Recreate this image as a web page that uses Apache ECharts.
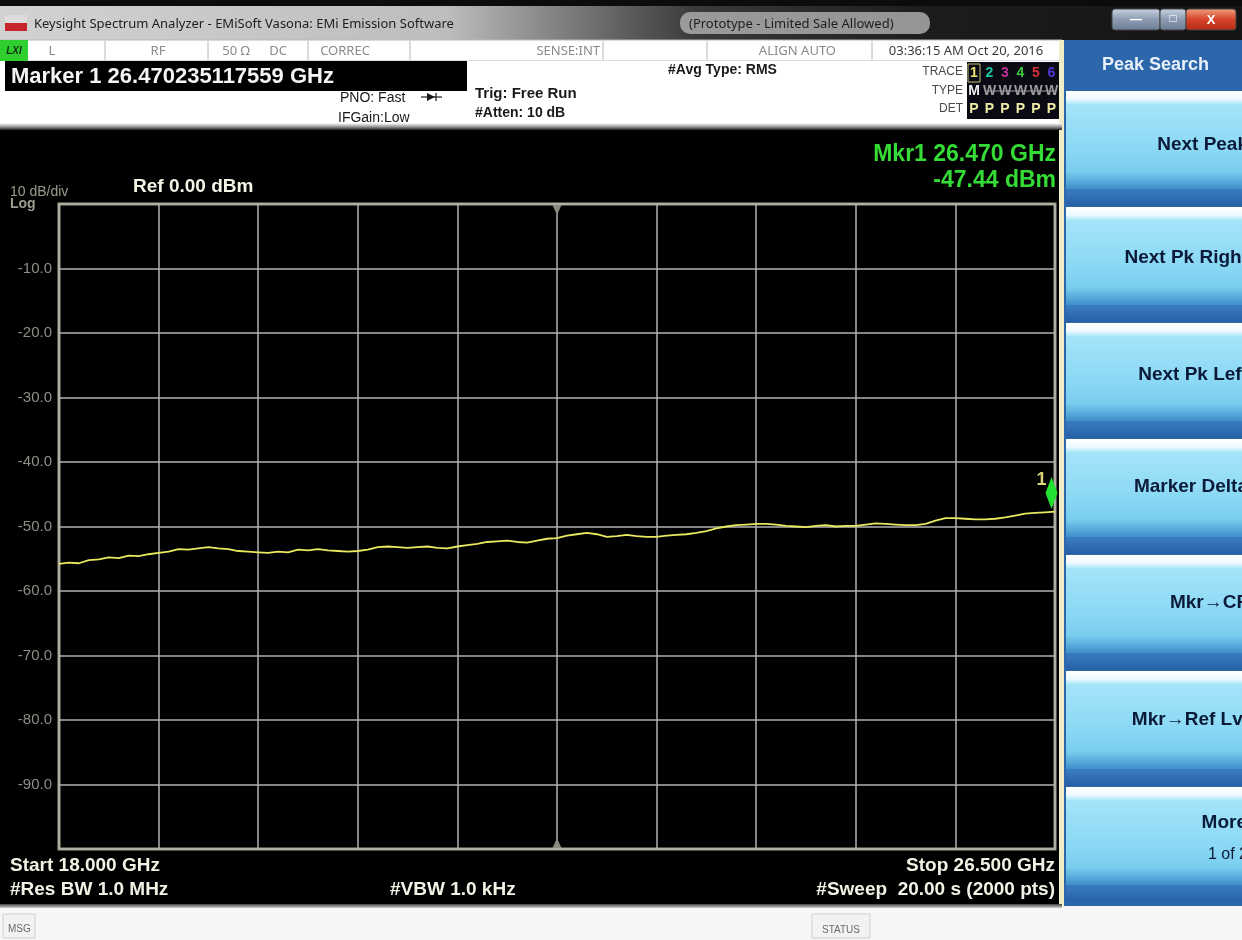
<!DOCTYPE html>
<html><head><meta charset="utf-8">
<script src="https://cdn.jsdelivr.net/npm/echarts@6/dist/echarts.min.js"></script>
<style>html,body{margin:0;padding:0;background:#000;overflow:hidden}#c{width:1242px;height:940px}</style>
</head><body><div id="c"></div>
<script>
// ---------------- data ----------------
const freqGHz = [18.000,18.085,18.170,18.255,18.340,18.425,18.510,18.595,18.680,18.765,
 18.850,18.935,19.020,19.105,19.190,19.275,19.360,19.445,19.530,19.615,
 19.700,19.785,19.870,19.955,20.040,20.125,20.210,20.295,20.380,20.465,
 20.550,20.635,20.720,20.805,20.890,20.975,21.060,21.145,21.230,21.315,
 21.400,21.485,21.570,21.655,21.740,21.825,21.910,21.995,22.080,22.165,
 22.250,22.335,22.420,22.505,22.590,22.675,22.760,22.845,22.930,23.015,
 23.100,23.185,23.270,23.355,23.440,23.525,23.610,23.695,23.780,23.865,
 23.950,24.035,24.120,24.205,24.290,24.375,24.460,24.545,24.630,24.715,
 24.800,24.885,24.970,25.055,25.140,25.225,25.310,25.395,25.480,25.565,
 25.650,25.735,25.820,25.905,25.990,26.075,26.160,26.245,26.330,26.415,26.500];
const levelDbm = [-55.8,-55.6,-55.7,-55.2,-55.1,-54.8,-54.9,-54.5,-54.6,-54.3,
 -54.1,-53.9,-53.5,-53.6,-53.4,-53.2,-53.4,-53.5,-53.8,-53.9,
 -54.0,-54.1,-53.9,-54.0,-53.6,-53.7,-53.5,-53.7,-53.8,-53.9,
 -53.8,-53.6,-53.2,-53.1,-53.2,-53.3,-53.2,-53.1,-53.3,-53.4,
 -53.1,-52.9,-52.7,-52.4,-52.3,-52.2,-52.4,-52.5,-52.2,-51.9,
 -51.8,-51.4,-51.2,-51.0,-51.2,-51.6,-51.5,-51.3,-51.5,-51.6,
 -51.6,-51.4,-51.3,-51.2,-51.0,-50.7,-50.3,-50.0,-49.8,-49.7,
 -49.6,-49.6,-49.7,-49.9,-50.0,-50.1,-49.9,-49.8,-50.0,-49.9,
 -49.9,-49.7,-49.5,-49.6,-49.7,-49.8,-49.8,-49.6,-49.1,-48.7,
 -48.7,-48.8,-48.9,-48.9,-48.8,-48.6,-48.3,-48.0,-47.9,-47.8,-47.7];
const yTicks = [0,-10,-20,-30,-40,-50,-60,-70,-80,-90,-100];
const yTickLabels = ['','-10.0','-20.0','-30.0','-40.0','-50.0','-60.0','-70.0','-80.0','-90.0',''];
const startGHz = 18.0, stopGHz = 26.5, centerGHz = 22.25;
const markerFreqGHz = 26.470235117559;
const markerLevelDbm = -47.44;
const softkeys = ['Next Peak','Next Pk Right','Next Pk Left','Marker Delta','Mkr\u2192CF','Mkr\u2192Ref Lvl','More'];
const traceDigits = ['1','2','3','4','5','6'];

// ---------------- helpers ----------------
const SANS = '"Liberation Sans", Arial, sans-serif';
function T(text, x, y, font, fill, align, valign, z) {
  align = align || 'left'; valign = valign || 'middle';
  return {type:'text', silent:true, z: z || 30,
    style:{text:text, x:x, y:y, font:font, fill:fill,
      textAlign:align, textVerticalAlign:valign, align:align, verticalAlign:valign}};
}
function R(x, y, w, h, fill, stroke, lw, r, z) {
  return {type:'rect', silent:true, z: z || 10,
    shape:{x:x, y:y, width:w, height:h, r:r || 0},
    style:{fill:fill, stroke:stroke || null, lineWidth:lw || 0}};
}
function L(x1, y1, x2, y2, stroke, lw, z) {
  return {type:'line', silent:true, z: z || 12,
    shape:{x1:x1, y1:y1, x2:x2, y2:y2}, style:{stroke:stroke, lineWidth:lw || 1}};
}
function lin(x2, y2, stops) {
  return {type:'linear', x:0, y:0, x2:x2, y2:y2,
    colorStops: stops.map(s => ({offset:s[0], color:s[1]}))};
}

const G = [];
// title bar
G.push(R(0, 0, 1242, 40, lin(1, 0, [[0,'#d2d2d2'],[0.36,'#bdbdbd'],[0.46,'#7a7a7a'],[0.56,'#3a3a3a'],[0.75,'#1c1c1c'],[1,'#141414']])));
G.push(R(0, 0, 1242, 6, '#0c0c0c', null, 0, 0, 11));
G.push(R(680, 12, 250, 22, 'rgba(170,170,170,0.85)', null, 0, 10, 11));
G.push(R(5, 15, 22, 8, '#dcdcdc', null, 0, 0, 12));
G.push(R(5, 23, 22, 8, '#c4262c', null, 0, 0, 12));
G.push(T('Keysight Spectrum Analyzer - EMiSoft Vasona: EMi Emission Software', 34, 24, '13px "Noto Sans", sans-serif', '#202020'));
G.push(T('(Prototype - Limited Sale Allowed)', 689, 24, '13px "Noto Sans", sans-serif', '#1e1e1e'));
G.push(R(1112, 9, 48, 21, lin(0, 1, [[0,'#c9d3e0'],[0.5,'#8d9cb2'],[1,'#6a7b95']]), '#444', 1, 3, 12));
G.push(R(1160, 9, 26, 21, lin(0, 1, [[0,'#c9d3e0'],[0.5,'#8d9cb2'],[1,'#6a7b95']]), '#444', 1, 3, 12));
G.push(R(1186, 9, 50, 21, lin(0, 1, [[0,'#f0a080'],[0.5,'#d6442a'],[1,'#b52a14']]), '#444', 1, 3, 12));
G.push(T('\u2014', 1136, 20, 'bold 12px ' + SANS, '#ffffff', 'center'));
G.push(T('\u25A1', 1173, 19, 'bold 12px ' + SANS, '#ffffff', 'center'));
G.push(T('X', 1211, 20, 'bold 13px ' + SANS, '#ffffff', 'center'));

// status row
G.push(R(0, 40, 1062, 21, '#ffffff', '#b8b8b8', 1));
G.push(R(0, 40, 28, 21, '#2fcf2f', null, 0, 0, 12));
G.push(T('LXI', 14, 51, 'italic bold 10px ' + SANS, '#103010', 'center'));
[105, 208, 308, 410, 603, 707, 872].forEach(x => G.push(L(x, 41, x, 60, '#b8b8b8', 1)));
const stGrey = '#8a8a8a', stFont = '13px "Noto Sans", sans-serif';
G.push(T('L', 52, 51, stFont, stGrey, 'center'));
G.push(T('RF', 158, 51, stFont, stGrey, 'center'));
G.push(T('50 \u03A9', 236, 51, stFont, stGrey, 'center'));
G.push(T('DC', 278, 51, stFont, stGrey, 'center'));
G.push(T('CORREC', 345, 51, stFont, stGrey, 'center'));
G.push(T('SENSE:INT', 600, 51, stFont, stGrey, 'right'));
G.push(T('ALIGN AUTO', 836, 51, stFont, stGrey, 'right'));
G.push(T('03:36:15 AM Oct 20, 2016', 966, 51, stFont, '#3a3a3a', 'center'));

// header white area
G.push(R(0, 61, 1062, 67, '#ffffff'));
G.push(R(0, 123, 1062, 7, lin(0, 1, [[0,'#ffffff'],[0.5,'#a0a0a0'],[1,'#202020']]), null, 0, 0, 11));
G.push(R(5, 61, 462, 30, '#000000', null, 0, 0, 12));
G.push(T('Marker 1 26.470235117559 GHz', 11, 77, 'bold 22px ' + SANS, '#f4f4f4'));
G.push(T('PNO: Fast', 340, 98, '14px ' + SANS, '#1a1a1a'));
G.push(L(421, 97, 442, 97, '#1a1a1a', 1.2));
G.push({type:'polygon', silent:true, z:13, shape:{points:[[427,93],[435,97],[427,101]]}, style:{fill:'#1a1a1a'}});
G.push(L(436, 93, 436, 101, '#1a1a1a', 1.2));
G.push(T('IFGain:Low', 338, 118, '14px ' + SANS, '#1a1a1a'));
G.push(T('Trig: Free Run', 475, 94, 'bold 15px ' + SANS, '#1a1a1a'));
G.push(T('#Atten: 10 dB', 475, 113, 'bold 14px ' + SANS, '#1a1a1a'));
G.push(T('#Avg Type: RMS', 668, 70, 'bold 14px ' + SANS, '#1a1a1a'));
// trace box
G.push(T('TRACE', 963, 72, '12px ' + SANS, '#4a4a4a', 'right'));
G.push(T('TYPE', 963, 91, '12px ' + SANS, '#4a4a4a', 'right'));
G.push(T('DET', 963, 109, '12px ' + SANS, '#4a4a4a', 'right'));
G.push(R(967, 62, 92, 57, '#0a0a14', null, 0, 0, 12));
G.push(R(968, 64, 12, 18, null, '#c8c070', 1, 0, 13));
const dColors = ['#e8e070','#20c8a8','#c03098','#38c838','#d83030','#5038d8'];
traceDigits.forEach((d, i) => {
  G.push(T(d, 974 + i * 15.5, 73, 'bold 14px ' + SANS, dColors[i], 'center'));
  G.push(T(i === 0 ? 'M' : 'W', 974 + i * 15.5, 91, 'bold 14px ' + SANS, i === 0 ? '#f0f0f0' : '#9a9a9a', 'center'));
  G.push(T('P', 974 + i * 15.5, 109, 'bold 14px ' + SANS, '#f0eca8', 'center'));
});
G.push(L(985, 91, 1056, 91, '#9a9a9a', 1, 14));

// black-area texts
G.push(T('10 dB/div', 10, 192, '14px ' + SANS, '#9c9c8c'));
G.push(T('Log', 10, 204, 'bold 14px ' + SANS, '#9c9c8c'));
G.push(T('Ref 0.00 dBm', 133, 187, 'bold 19px ' + SANS, '#f4f4e6'));
G.push(T('Mkr1 26.470 GHz', 1056, 155, 'bold 23px ' + SANS, '#35dc35', 'right'));
G.push(T('-47.44 dBm', 1056, 181, 'bold 23px ' + SANS, '#35dc35', 'right'));
G.push(T('Start 18.000 GHz', 10, 866, 'bold 19px ' + SANS, '#f2f2e4'));
G.push(T('#Res BW 1.0 MHz', 10, 890, 'bold 19px ' + SANS, '#f2f2e4'));
G.push(T('#VBW 1.0 kHz', 390, 890, 'bold 19px ' + SANS, '#f2f2e4'));
G.push(T('Stop 26.500 GHz', 1055, 866, 'bold 19px ' + SANS, '#f2f2e4', 'right'));
G.push(T('#Sweep  20.00 s (2000 pts)', 1055, 890, 'bold 19px ' + SANS, '#f2f2e4', 'right'));

// bottom message strip
G.push(R(0, 905, 1242, 35, '#f6f6f6'));
G.push(R(0, 904, 1062, 4, lin(0, 1, [[0,'#404040'],[1,'#d0d0d0']]), null, 0, 0, 11));
G.push(R(3, 914, 32, 24, '#f2f2f2', '#d0d0d0', 1, 0, 12));
G.push(T('MSG', 8, 929, '10px ' + SANS, '#6a6a6a'));
G.push(R(812, 914, 58, 24, '#f2f2f2', '#d0d0d0', 1, 0, 12));
G.push(T('STATUS', 841, 930, '10px ' + SANS, '#6a6a6a', 'center'));

// right softkey panel
G.push(R(1059, 40, 6, 866, '#f0ecc8'));
G.push(R(1064, 40, 178, 866, '#2c67ab'));
G.push(T('Peak Search', 1102, 65, 'bold 18px ' + SANS, '#e8f0fa'));
const keyTop = 90, keyH = 116;
const keyTextDy = [55, 52, 53, 49, 49, 50];
softkeys.forEach((k, i) => {
  const y = keyTop + i * keyH;
  G.push(R(1066, y + 1, 176, 98, lin(0, 1, [[0,'#ffffff'],[0.08,'#eefaff'],[0.14,'#a4e4fa'],[0.6,'#8ad8f4'],[0.82,'#7acdef'],[1,'#3f8fcc']]), null, 0, 0, 11));
  G.push(R(1066, y + 99, 176, 17, lin(0, 1, [[0,'#3a7cc0'],[1,'#2660a6']]), null, 0, 0, 11));
  if (k === 'More') {
    G.push(T(k, 1247, y + 37, 'bold 19px ' + SANS, '#0b1a38', 'right'));
    G.push(T('1 of 2', 1248, y + 69, '16px ' + SANS, '#0b1a38', 'right'));
  } else {
    G.push(T(k, 1248, y + keyTextDy[i], 'bold 19px ' + SANS, '#0b1a38', 'right'));
  }
});

// ---------------- chart ----------------
const chart = echarts.init(document.getElementById('c'), null, {renderer:'canvas'});
chart.setOption({
  backgroundColor: '#000000',
  animation: false,
  grid: {left: 59, top: 204, width: 996, height: 645, show: true,
    borderColor: '#a2a284', borderWidth: 3, backgroundColor: 'transparent'},
  xAxis: [
    {type:'value', min:startGHz, max:stopGHz, show:false},
    {type:'value', min:0, max:10, interval:1, position:'bottom',
     axisLine:{show:false}, axisTick:{show:false}, axisLabel:{show:false},
     splitLine:{show:true, lineStyle:{color:'#b2b2b2', width:1.5}}}
  ],
  yAxis: {type:'value', min:-100, max:0, interval:10,
    axisLine:{show:false}, axisTick:{show:false},
    axisLabel:{color:'#8e8e86', fontSize:15, fontFamily:SANS, margin:7,
      formatter: v => { const i = yTicks.indexOf(Math.round(v)); return i >= 0 ? yTickLabels[i] : ''; }},
    splitLine:{show:true, lineStyle:{color:'#b2b2b2', width:1.5}}},
  series: [{
    type:'line', xAxisIndex:0, yAxisIndex:0,
    data: freqGHz.map((f, i) => [f, levelDbm[i]]),
    showSymbol:false, symbol:'none',
    lineStyle:{color:'#e9e85e', width:1.8},
    z: 5,
    markPoint: {
      silent: true,
      data: [
        {coord:[markerFreqGHz, markerLevelDbm], symbol:'diamond', symbolSize:[12, 32], symbolOffset:[0, -17],
         itemStyle:{color:'#22e030'},
         label:{show:true, formatter:'1', position:[-9, -6], color:'#d8d27a', fontSize:18, fontWeight:'bold', fontFamily:SANS}},
        {coord:[centerGHz, 0], symbol:'triangle', symbolRotate:180, symbolSize:[9, 10], symbolOffset:[0, 6],
         itemStyle:{color:'#8a8a80'}, label:{show:false}},
        {coord:[centerGHz, -100], symbol:'triangle', symbolSize:[9, 10], symbolOffset:[0, -6],
         itemStyle:{color:'#8a8a80'}, label:{show:false}}
      ]
    }
  }],
  graphic: {elements: G}
});
</script>
</body></html>
